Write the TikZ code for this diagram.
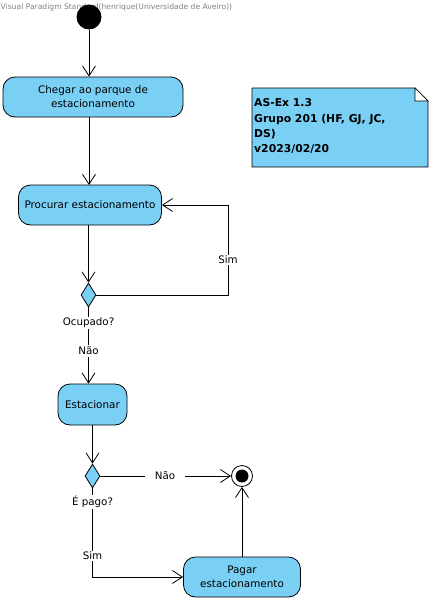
\documentclass[tikz,border=0pt]{standalone}
\usepackage{fontspec}
\setmainfont{DejaVu Sans}
\usetikzlibrary{arrows.meta,shapes.geometric}
\definecolor{vpblue}{RGB}{122,207,245}
\tikzset{
  act/.style={draw, fill=vpblue, rounded corners=12pt, line width=0.8pt, inner sep=0pt, align=center, font=\fontsize{10.4}{14}\selectfont},
  dec/.style={draw, fill=vpblue, diamond, inner sep=0pt, minimum width=15pt, minimum height=24pt, line width=0.8pt},
  flow/.style={line width=0.8pt},
  arr/.style={flow, -{Straight Barb[length=10pt,width=13pt,line width=0.8pt]}},
  lbl/.style={fill=white, inner sep=1.5pt, font=\fontsize{10.3}{12}\selectfont},
}
\begin{document}
\begin{tikzpicture}[x=1pt,y=-1pt]
\useasboundingbox (0,0) rectangle (435,600);
\node[anchor=west, text=gray, inner sep=0pt, font=\fontsize{7.6}{9}\selectfont] (hdr) at (0.5,7) {Visual Paradigm Standard(henrique(Universidade de Aveiro))};
\node[circle, fill=black, minimum size=25pt, inner sep=0pt] (init) at (89,17) {};
\node[act, minimum width=180pt, minimum height=40pt] (a1) at (93,97) {Chegar ao parque de\\estacionamento};
\node[act, minimum width=143pt, minimum height=40pt] (a2) at (90,205) {Procurar estacionamento};
\node[dec] (d1) at (88.5,295) {};
\node[act, minimum width=69pt, minimum height=41pt] (a3) at (92.5,404.5) {Estacionar};
\node[dec] (d2) at (92.5,476) {};
\node[circle, draw, fill=white, line width=0.8pt, minimum size=21pt, inner sep=0pt] (fin) at (242,476) {};
\node[circle, fill=black, minimum size=13pt, inner sep=0pt] at (fin) {};
\node[act, minimum width=117pt, minimum height=40pt] (a4) at (242,577) {Pagar\\estacionamento};
% note
\fill[vpblue] (252,88) -- (415,88) -- (428,101) -- (428,167) -- (252,167) -- cycle;
\draw[line width=0.8pt] (252,88) -- (415,88) -- (428,101) -- (428,167) -- (252,167) -- cycle;
\draw[line width=0.6pt, fill=white] (415,88) -- (415,101) -- (428,101) -- cycle;
\node[anchor=north west, align=left, inner sep=0pt, font=\bfseries\fontsize{10.8}{15.3}\selectfont] (note) at (254,98.5) {AS-Ex 1.3\\Grupo 201 (HF, GJ, JC,\\DS)\\v2023/02/20};
% connectors
\coordinate (c1) at (89,117);
\coordinate (c2) at (89,185);
\draw[arr] (init) -- (init |- a1.north);
\draw[arr] (c1) -- (c2);
\draw[arr] (d1 |- a2.south) -- (d1.north);
\coordinate (r1) at (228,295);
\coordinate (r2) at (228,205);
\draw[arr] (d1.east) -- (r1) -- (r2) -- (a2.east);
\node[lbl] (sim1) at (228,260) {Sim};
\draw[arr] (d1.south) -- (d1.south |- a3.north);
\node[lbl] (ocup) at (88.5,323) {Ocupado?};
\node[lbl] (nao1) at (88.5,351) {Não};
\draw[arr] (d2 |- a3.south) -- (d2.north);
\draw[arr] (d2.east) -- (fin.west);
\node[lbl, inner xsep=10pt] (nao2) at (165,476) {Não};
\coordinate (s1) at (92.5,577);
\draw[arr] (d2.south) -- (s1) -- (a4.west);
\node[lbl] (epago) at (92.5,502) {É pago?};
\node[lbl] (sim2) at (92.5,556) {Sim};
\draw[arr] (a4.north) -- (fin.south);
\end{tikzpicture}
\end{document}
